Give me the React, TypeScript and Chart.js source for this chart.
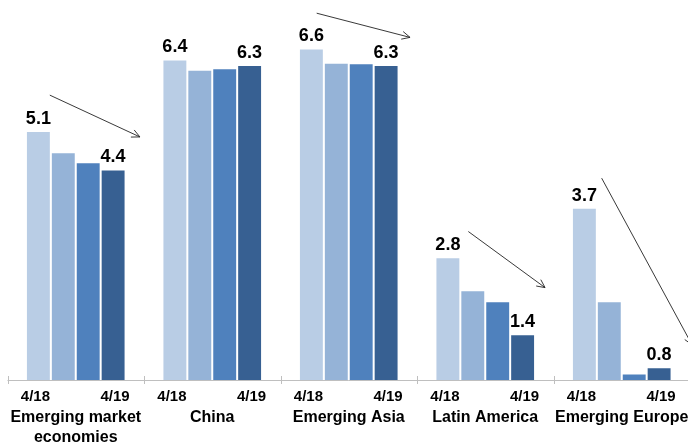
import React, { useEffect, useRef } from "react";
import { Chart, registerables } from "chart.js";

Chart.register(...registerables);

const categories: (string | string[])[] = [
  ["Emerging market", "economies"],
  "China",
  "Emerging Asia",
  "Latin America",
  "Emerging Europe",
];
const seriesLabels = ["4/18", "7/18", "10/18", "4/19"];
const tickFirst = "4/18";
const tickLast = "4/19";
const vintage1 = [5.1, 6.4, 6.6, 2.8, 3.7];
const vintage2 = [4.71, 6.21, 6.34, 2.2, 2.0];
const vintage3 = [4.53, 6.24, 6.33, 2.0, 0.69];
const vintage4 = [4.4, 6.3, 6.3, 1.4, 0.8];
const colors = ["#B9CDE5", "#95B3D7", "#4F81BD", "#376092"];

// arrows in data units: [fromIndex, fromValue, toIndex, toValue]
const arrows: number[][] = [
  [-0.19, 5.75, 0.47, 4.99],
  [1.765, 7.24, 2.449, 6.8],
  [2.876, 3.27, 3.438, 2.25],
  [3.853, 4.24, 4.515, 1.21],
];

const FONT = '"Liberation Sans", Arial, Helvetica, sans-serif';

const overlay = {
  id: "overlay",
  afterDatasetsDraw(chart: any) {
    const ctx = chart.ctx;
    const area = chart.chartArea;
    const xs = chart.scales.x;
    const ys = chart.scales.y;
    ctx.save();
    // axis line
    ctx.strokeStyle = "#BFBFBF";
    ctx.lineWidth = 1;
    ctx.beginPath();
    ctx.moveTo(area.left, Math.round(area.bottom) + 0.5);
    ctx.lineTo(area.right, Math.round(area.bottom) + 0.5);
    ctx.stroke();
    const n = categories.length;
    const w = (area.right - area.left) / n;
    for (let i = 0; i <= n; i++) {
      const x = Math.round(area.left + i * w) + 0.5;
      ctx.beginPath();
      ctx.moveTo(x, area.bottom - 4);
      ctx.lineTo(x, area.bottom + 4);
      ctx.stroke();
    }
    // value labels
    ctx.fillStyle = "#000";
    ctx.textAlign = "center";
    ctx.textBaseline = "alphabetic";
    ctx.font = `bold 18px ${FONT}`;
    const last = chart.data.datasets.length - 1;
    [0, last].forEach((di) => {
      const meta = chart.getDatasetMeta(di);
      meta.data.forEach((bar: any, j: number) => {
        const v = chart.data.datasets[di].data[j];
        ctx.fillText(v.toFixed(1), bar.x, bar.y - 7);
      });
    });
    // vintage tick labels
    ctx.font = `bold 15px ${FONT}`;
    const m0 = chart.getDatasetMeta(0);
    const mL = chart.getDatasetMeta(last);
    for (let j = 0; j < n; j++) {
      ctx.fillText(tickFirst, m0.data[j].x - 3, area.bottom + 21);
      ctx.fillText(tickLast, mL.data[j].x + 2, area.bottom + 21);
    }
    // category names
    ctx.font = `bold 16px ${FONT}`;
    categories.forEach((c, j) => {
      const lines = Array.isArray(c) ? c : [c];
      const cx = xs.getPixelForValue(j);
      lines.forEach((ln, k) => {
        ctx.fillText(ln, cx, area.bottom + 42 + k * 19.5);
      });
    });
    // arrows
    ctx.strokeStyle = "#222";
    ctx.lineWidth = 0.9;
    arrows.forEach(([i0, v0, i1, v1]) => {
      const x0 = xs.getPixelForValue(i0);
      const y0 = ys.getPixelForValue(v0);
      const x1 = xs.getPixelForValue(i1);
      const y1 = ys.getPixelForValue(v1);
      ctx.beginPath();
      ctx.moveTo(x0, y0);
      ctx.lineTo(x1, y1);
      ctx.stroke();
      const ang = Math.atan2(y1 - y0, x1 - x0);
      const L = 9;
      const spread = 0.45;
      ctx.beginPath();
      ctx.moveTo(x1 - L * Math.cos(ang - spread), y1 - L * Math.sin(ang - spread));
      ctx.lineTo(x1, y1);
      ctx.lineTo(x1 - L * Math.cos(ang + spread), y1 - L * Math.sin(ang + spread));
      ctx.stroke();
    });
    ctx.restore();
  },
};

export default function App() {
  const ref = useRef<HTMLCanvasElement>(null);
  useEffect(() => {
    if (!ref.current) return;
    const series = [vintage1, vintage2, vintage3, vintage4];
    const chart = new Chart(ref.current, {
      type: "bar",
      data: {
        labels: categories as any,
        datasets: series.map((d, i) => ({
          label: seriesLabels[i],
          data: d,
          backgroundColor: colors[i],
          borderColor: "rgba(255,255,255,0.35)",
          borderWidth: 1,
          categoryPercentage: 0.73,
          barPercentage: 1.0,
        })),
      },
      options: {
        responsive: false,
        animation: false,
        layout: { padding: { left: 7.5, right: 0, top: 0, bottom: 63 } },
        plugins: { legend: { display: false }, tooltip: { enabled: false } },
        scales: {
          x: { display: false },
          y: { display: false, min: 0.57, max: 7.48 },
        },
      },
      plugins: [overlay],
    });
    return () => chart.destroy();
  }, []);
  return (
    <div
      style={{
        position: "absolute",
        left: 0,
        top: 0,
        width: 688,
        height: 443,
        overflow: "hidden",
        background: "#fff",
      }}
    >
      <canvas ref={ref} width={690} height={443} style={{ width: 690, height: 443, display: "block" }} />
    </div>
  );
}
